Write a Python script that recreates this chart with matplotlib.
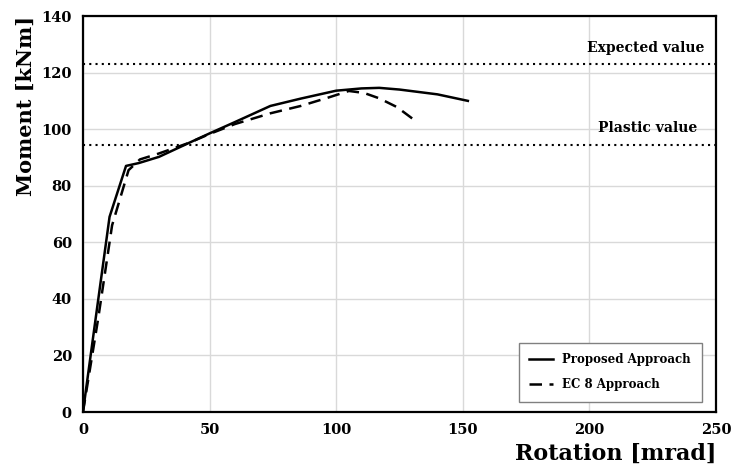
import numpy as np
import matplotlib.pyplot as plt

plt.rcParams['font.family'] = ['DejaVu Serif']
plt.rcParams['font.weight'] = 'bold'

# rotation [mrad] / moment [kNm]
rot_proposed = [0, 5, 10.5, 17, 22, 30, 42, 50, 60, 74, 86, 100, 110, 117, 125, 140, 152]
mom_proposed = [0, 33, 69, 87, 88, 90.2, 95.2, 98.5, 102.5, 108.2, 110.8, 113.6, 114.4, 114.6, 114, 112.3, 110]

rot_ec8 = [0, 6, 11.5, 18, 22.5, 30, 42, 50, 60, 74, 86, 97, 105, 111, 117, 124, 130]
mom_ec8 = [0, 33, 66, 85.5, 89.3, 91.4, 95.2, 98.3, 101.8, 105.6, 108.2, 111.2, 113.5, 112.8, 110.9, 107.8, 103.8]

expected_value = 123
plastic_value = 94.5

fig = plt.figure(figsize=(7.31, 4.75), dpi=100)
ax = fig.add_axes([0.1135, 0.1326, 0.866, 0.8337])

ax.plot(rot_proposed, mom_proposed, color='black', lw=1.8, label='Proposed Approach')
ax.plot(rot_ec8, mom_ec8, color='black', lw=1.8, ls=(0, (5, 3)), label='EC 8 Approach')

ax.axhline(expected_value, color='black', lw=1.5, ls=(0, (1, 2)))
ax.axhline(plastic_value, color='black', lw=1.5, ls=(0, (1, 2)))
ax.text(245.5, expected_value + 3.3, 'Expected value', ha='right', va='bottom',
        fontsize=10, fontweight='bold')
ax.text(242.5, plastic_value + 3.3, 'Plastic value', ha='right', va='bottom',
        fontsize=10, fontweight='bold')

ax.set_xlim(0, 250)
ax.set_ylim(0, 140)
ax.set_xticks(np.arange(0, 251, 50))
ax.set_yticks(np.arange(0, 141, 20))
ax.grid(True, color='#d9d9d9', lw=1)
ax.set_axisbelow(True)
ax.tick_params(length=0, labelsize=10.5, pad=8)
for lab in ax.get_xticklabels() + ax.get_yticklabels():
    lab.set_fontweight('bold')
for sp in ax.spines.values():
    sp.set_linewidth(1.6)

ax.set_xlabel('Rotation [mrad]', fontsize=16, fontweight='bold', loc='right', labelpad=4)
ax.set_ylabel('Moment [kNm]', fontsize=15, fontweight='bold', loc='top', labelpad=4)

leg = ax.legend(loc='lower right', bbox_to_anchor=(0.981, 0.02), fontsize=8.5,
                fancybox=False, edgecolor='#808080', framealpha=1,
                handlelength=2.0, borderpad=0.9, labelspacing=1.0, borderaxespad=0.2)
leg.get_frame().set_linewidth(1)
for t in leg.get_texts():
    t.set_fontweight('bold')

fig.savefig('out.png', dpi=100)
